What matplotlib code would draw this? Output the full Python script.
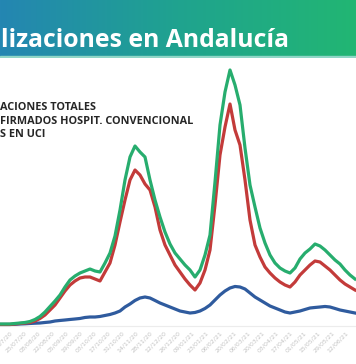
import numpy as np
import matplotlib.pyplot as plt
from matplotlib.colors import LinearSegmentedColormap

# days since start of the series (one sample every 5 days)
days = list(range(0, 360, 5))

# hospitalizaciones totales
total = [38, 38, 38, 48, 57, 67, 86, 124, 181, 266, 371, 475, 589, 741, 874, 950,
         1007, 1045, 1083, 1045, 1026, 1197, 1387, 1710, 2204, 2774, 3211, 3420, 3306, 3211,
         2774, 2394, 2071, 1786, 1558, 1387, 1273, 1159, 1064, 931, 1064, 1349, 1729, 2736,
         3819, 4446, 4864, 4579, 4199, 3382, 2679, 2261, 1862, 1577, 1349, 1197, 1102, 1045,
         1007, 1102, 1273, 1387, 1463, 1558, 1520, 1444, 1349, 1254, 1178, 1064, 969, 893]

# confirmados hospit. convencional
convencional = [29, 29, 29, 38, 48, 57, 67, 95, 143, 209, 304, 399, 532, 665, 779, 855,
                912, 931, 931, 893, 855, 1026, 1197, 1539, 1976, 2394, 2774, 2964, 2869, 2698,
                2584, 2261, 1824, 1539, 1349, 1159, 1026, 893, 779, 684, 817, 1064, 1444, 2299,
                3249, 3781, 4218, 3724, 3439, 2774, 2014, 1539, 1311, 1121, 1007, 912, 836, 779,
                741, 836, 969, 1064, 1159, 1235, 1216, 1140, 1064, 969, 874, 798, 741, 684]

# pacientes en UCI
uci = [29, 29, 29, 32, 38, 42, 48, 53, 57, 67, 76, 95, 105, 114, 124, 133,
       143, 162, 171, 171, 181, 200, 219, 247, 285, 361, 418, 485, 532, 551,
       532, 485, 437, 399, 361, 323, 285, 266, 247, 257, 285, 333, 399, 494,
       589, 665, 722, 751, 741, 703, 627, 551, 494, 437, 380, 342, 304, 266,
       247, 266, 285, 314, 342, 352, 361, 371, 361, 333, 304, 285, 266, 247]

tick_days = [10, 24, 38, 52, 66, 80, 94, 108, 122, 136, 150, 164, 178, 192, 206, 220,
             234, 248, 262, 276, 290, 304, 318, 332, 346]
tick_labels = ["11/07/20", "25/07/20", "08/08/20", "22/08/20", "05/09/20", "19/09/20",
               "03/10/20", "17/10/20", "31/10/20", "14/11/20", "28/11/20", "12/12/20",
               "26/12/20", "09/01/21", "23/01/21", "06/02/21", "20/02/21", "06/03/21",
               "20/03/21", "03/04/21", "17/04/21", "01/05/21", "15/05/21", "29/05/21",
               "12/06/21"]

W, H = 356, 364
fig = plt.figure(figsize=(W / 100, H / 100), dpi=100)

# title banner with gradient
banner = fig.add_axes([0, 1 - 58 / H, 1, 58 / H])
grad = np.linspace(0, 1, 256).reshape(1, -1)
cmap = LinearSegmentedColormap.from_list("banner", ["#2486b2", "#1fa38f", "#22b673"])
banner.imshow(grad, aspect="auto", cmap=cmap, extent=[0, 1, 0, 1])
banner.axhspan(0, 0.04, color="#8fd6c6")
banner.set_xlim(0, 1)
banner.set_ylim(0, 1)
banner.axis("off")
fig.text(0.004, 1 - 47 / H, "lizaciones en Andalucía", color="white",
         fontsize=17.8, fontweight="bold", family="Open Sans", va="baseline")

# legend text (cut at the left edge)
leg_lines = ["ACIONES TOTALES", "FIRMADOS HOSPIT. CONVENCIONAL", "S EN UCI"]
for i, s in enumerate(leg_lines):
    fig.text(0, 1 - (110 + 13.5 * i) / H, s, color="#262626", fontsize=7.8,
             fontweight="bold", family="Open Sans", va="baseline")

ax = fig.add_axes([0, 38 / H, 1, 266 / H])
ax.plot(days, uci, color="#2f5b9e", lw=2.3, clip_on=False, zorder=3)
ax.plot(days, convencional, color="#c33b3a", lw=2.3, clip_on=False, zorder=4)
ax.plot(days, total, color="#27ad6e", lw=2.3, clip_on=False, zorder=5)
ax.set_xlim(0, 356)
ax.set_ylim(0, 5054)
ax.set_facecolor("none")
for side in ["top", "left", "right"]:
    ax.spines[side].set_visible(False)
ax.spines["bottom"].set_color("#ececec")
ax.set_yticks([])
ax.set_xticks(tick_days)
ax.set_xticklabels(tick_labels, rotation=45, ha="right", rotation_mode="anchor",
                   fontsize=4.5, color="#c4c4c4")
ax.tick_params(axis="x", length=0, pad=3)

fig.savefig("out.png", dpi=100)
